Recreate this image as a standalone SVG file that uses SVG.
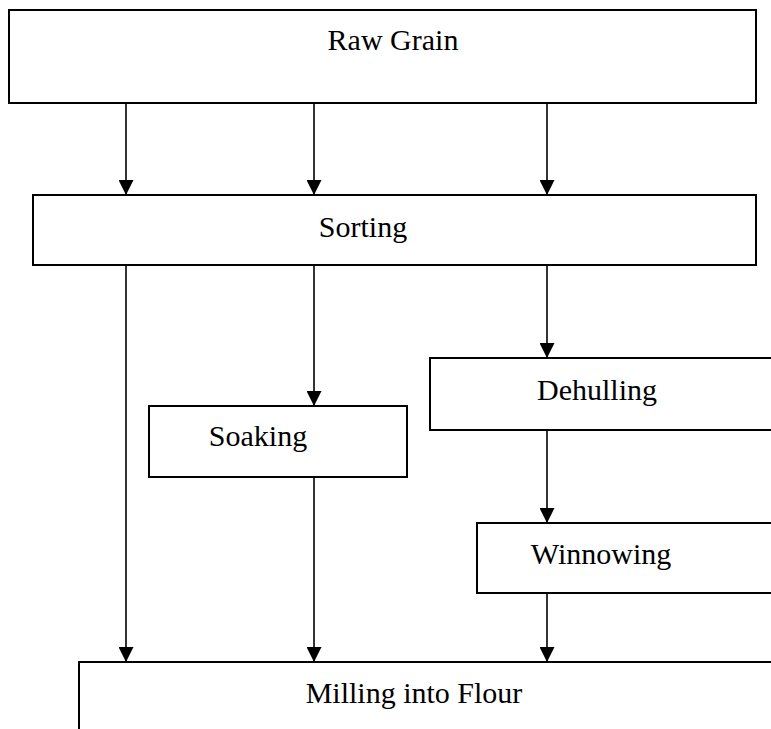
<svg xmlns="http://www.w3.org/2000/svg" width="771" height="729" viewBox="0 0 771 729">
<style>
.box{fill:#fff;stroke:#000;stroke-width:2}
.lbl{font-family:"Liberation Serif","Times New Roman",serif;font-size:30px;fill:#000;text-anchor:middle}
.conn{stroke:#000;stroke-width:1.6;fill:none;marker-end:url(#ah)}
</style>
<defs>
<marker id="ah" markerUnits="userSpaceOnUse" markerWidth="15" markerHeight="15" viewBox="0 0 15 15" refX="15" refY="7.5" orient="auto">
<path d="M0,0 L15,7.5 L0,15 Z" fill="#000"/>
</marker>
</defs>
<rect width="771" height="729" fill="#fff"/>
<g id="connectors">
<line class="conn" x1="126" y1="103" x2="126" y2="195"/>
<line class="conn" x1="314" y1="103" x2="314" y2="195"/>
<line class="conn" x1="547" y1="103" x2="547" y2="195"/>
<line class="conn" x1="126" y1="265" x2="126" y2="662"/>
<line class="conn" x1="314" y1="265" x2="314" y2="406"/>
<line class="conn" x1="547" y1="265" x2="547" y2="358"/>
<line class="conn" x1="314" y1="477" x2="314" y2="662"/>
<line class="conn" x1="547" y1="430" x2="547" y2="523"/>
<line class="conn" x1="547" y1="593" x2="547" y2="662"/>
</g>
<g id="raw-grain">
<rect class="box" x="9" y="10" width="747" height="93"/>
<text class="lbl" x="393" y="50">Raw Grain</text>
</g>
<g id="sorting">
<rect class="box" x="33" y="195" width="723" height="70"/>
<text class="lbl" x="363" y="237">Sorting</text>
</g>
<g id="dehulling">
<rect class="box" x="430" y="358" width="360" height="72"/>
<text class="lbl" x="597" y="400">Dehulling</text>
</g>
<g id="soaking">
<rect class="box" x="149" y="406" width="258" height="71"/>
<text class="lbl" x="258" y="446">Soaking</text>
</g>
<g id="winnowing">
<rect class="box" x="477" y="523" width="313" height="70"/>
<text class="lbl" x="601" y="564">Winnowing</text>
</g>
<g id="milling">
<rect class="box" x="79" y="662" width="711" height="90"/>
<text class="lbl" x="414" y="703">Milling into Flour</text>
</g>
</svg>
